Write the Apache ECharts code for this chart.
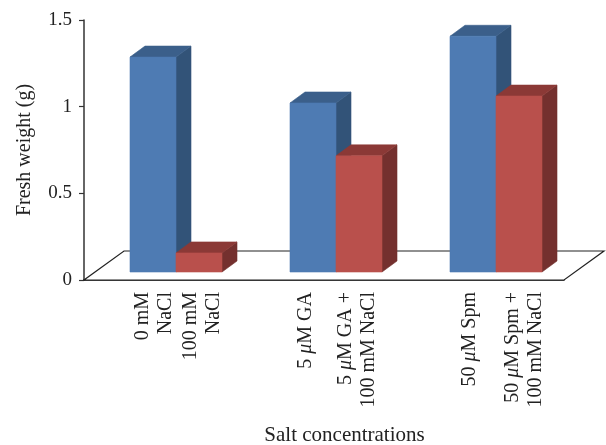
<!DOCTYPE html>
<html>
<head>
<meta charset="utf-8">
<style>html,body{margin:0;padding:0;background:#fff}#chart{width:606px;height:445px}</style>
<script src="https://cdn.jsdelivr.net/npm/echarts@6/dist/echarts.min.js"></script>
</head>
<body>
<div id="chart"></div>
<script>
// Fresh weight per treatment; each group pairs a plain and a salt-stressed bar.
const withoutSalt = [1.24, 0.975, 1.36];
const withSalt = [0.11, 0.67, 1.015];
const barLabels = [
  '0 mM\nNaCl',
  '100 mM\nNaCl',
  '5 {mu|μ}M GA',
  '5 {mu|μ}M GA +\n100 mM NaCl',
  '50 {mu|μ}M Spm',
  '50 {mu|μ}M Spm +\n100 mM NaCl'
];
const yTicks = ['0', '0.5', '1', '1.5'];

// Oblique projection used to fake the 3D look.
const GROUP_PX = 160, BAR_PX = 46, LEAD_PX = 46;
const FLOOR = { dx: 40, dy: -29 };
const INSET = { dy: -8 };
const DEPTH = { dx: 15, dy: -11 };
const FONT = '"Liberation Serif", serif';

// Horizontal nudges (px) that centre each rotated label block under its bar.
const labelNudge = [1, 3.5, -7.5, -2, -3.5, 5.5];

const barAxisValue = (group, slot) => group + (LEAD_PX + BAR_PX * slot + BAR_PX / 2) / GROUP_PX;
const labelValues = barLabels.map((_, i) =>
  barAxisValue(Math.floor(i / 2), i % 2) + labelNudge[i] / GROUP_PX);

function barSeries(name, values, slot, front, top, side) {
  return {
    name, type: 'custom', coordinateSystem: 'cartesian2d', clip: false, z: 3,
    data: values.map((v, i) => [i, v]),
    encode: { x: 0, y: 1 },
    renderItem(params, api) {
      const cx = barAxisValue(api.value(0), slot);
      const base = api.coord([cx, 0]);
      const peak = api.coord([cx, api.value(1)]);
      const l = base[0] - BAR_PX / 2;
      const r = l + BAR_PX;
      const b = base[1] + INSET.dy;
      const t = peak[1] + INSET.dy;
      const poly = (points, fill, stroke) => ({
        type: 'polygon', shape: { points },
        style: { fill, stroke: stroke || fill, lineWidth: 0.6 }
      });
      return {
        type: 'group',
        children: [
          poly([[r, b], [r + DEPTH.dx, b + DEPTH.dy], [r + DEPTH.dx, t + DEPTH.dy], [r, t]], side),
          poly([[l, t], [l + DEPTH.dx, t + DEPTH.dy], [r + DEPTH.dx, t + DEPTH.dy], [r, t]], top),
          poly([[l, b], [r, b], [r, t], [l, t]], front)
        ]
      };
    }
  };
}

const floorSeries = {
  type: 'custom', coordinateSystem: 'cartesian2d', clip: false, z: 1, silent: true,
  data: [[0, 0]],
  renderItem(params, api) {
    const a = api.coord([0, 0]);
    const b = api.coord([3, 0]);
    return {
      type: 'polygon',
      shape: { points: [a, b, [b[0] + FLOOR.dx, b[1] + FLOOR.dy], [a[0] + FLOOR.dx, a[1] + FLOOR.dy]] },
      style: { fill: '#fff', stroke: '#222', lineWidth: 1.2 }
    };
  }
};

const chart = echarts.init(document.getElementById('chart'), null, { renderer: 'canvas' });
chart.setOption({
  animation: false,
  backgroundColor: '#fff',
  grid: { left: 84, right: 42, top: 20, bottom: 165, containLabel: false, outerBoundsMode: 'none' },
  xAxis: {
    type: 'value', min: 0, max: 3,
    splitLine: { show: false },
    axisLine: { show: true, onZero: false, lineStyle: { color: '#111', width: 1.5 } },
    axisTick: { show: false, customValues: labelValues },
    axisLabel: {
      show: true, customValues: labelValues, rotate: 90, margin: 12,
      formatter: (value) => {
        let best = 0;
        labelValues.forEach((v, i) => { if (Math.abs(v - value) < Math.abs(labelValues[best] - value)) best = i; });
        return barLabels[best];
      },
      color: '#222', fontFamily: FONT, fontSize: 20, lineHeight: 23,
      rich: { mu: { fontStyle: 'italic', fontFamily: FONT, fontSize: 20, color: '#222', lineHeight: 23 } }
    },
    name: 'Salt concentrations', nameLocation: 'middle', nameGap: 145,
    nameTextStyle: { color: '#222', fontFamily: FONT, fontSize: 21, padding: [0, 0, 0, 41] }
  },
  yAxis: {
    type: 'value', min: 0, max: 1.5, interval: 0.5,
    splitLine: { show: false },
    axisLine: { show: true, onZero: false, lineStyle: { color: '#333', width: 1.5 } },
    axisTick: { show: true, length: 5, lineStyle: { color: '#333', width: 1.2 } },
    axisLabel: {
      margin: 12, color: '#222', fontFamily: FONT, fontSize: 19,
      formatter: v => yTicks[Math.round(v / 0.5)]
    },
    name: 'Fresh weight (g)', nameLocation: 'middle', nameGap: 49,
    nameTextStyle: { color: '#222', fontFamily: FONT, fontSize: 20 }
  },
  series: [
    floorSeries,
    barSeries('Without salt', withoutSalt, 0, '#4E7BB3', '#3B5F8A', '#325378'),
    barSeries('With salt', withSalt, 1, '#B9504C', '#8B3936', '#74302E')
  ]
});
</script>
</body>
</html>
